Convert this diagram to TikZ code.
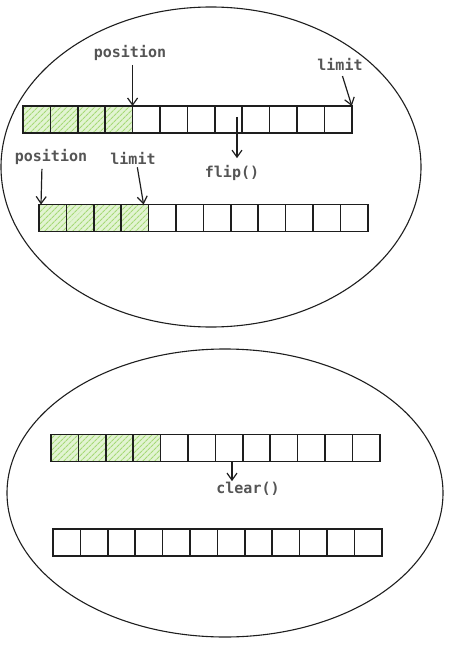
\documentclass[tikz,border=0pt]{standalone}
\usepackage{fontspec}
\newfontfamily\codefont{DejaVu Sans Mono}
\usetikzlibrary{arrows.meta,patterns.meta,calc}
\definecolor{hatch}{HTML}{A6D977}
\definecolor{hfill}{HTML}{E2F4D2}
\definecolor{txt}{HTML}{555555}
\definecolor{ink}{HTML}{1E1E1E}
\tikzset{
 cell/.style={draw=ink, line width=1.6pt, minimum width=27.4pt, minimum height=27pt, inner sep=0pt, outer sep=0pt},
 filled/.style={cell, preaction={fill=hfill}, pattern={Lines[angle=45,distance=4pt,line width=1.1pt]}, pattern color=hatch},
 lbl/.style={font=\codefont\bfseries\fontsize{15}{17}\selectfont, text=txt, inner sep=1pt},
 arr/.style={draw=ink, line width=1.2pt, -{Straight Barb[length=7pt,width=10pt]}},
 blob/.style={draw=ink, line width=1.1pt}
}
\begin{document}
\begin{tikzpicture}[x=1pt,y=-1pt]
\useasboundingbox (0,0) rectangle (467,650);
% enclosing ellipses
\draw[blob] (211,167) ellipse [x radius=210pt, y radius=160pt];
\draw[blob] (225,493) ellipse [x radius=218pt, y radius=144pt];
% row 1
\foreach \i in {1,...,4} \node[filled] (r1c\i) at ({23+13.7+(\i-1)*27.4},119.5) {};
\foreach \i in {5,...,12} \node[cell] (r1c\i) at ({23+13.7+(\i-1)*27.4},119.5) {};
% row 2
\foreach \i in {1,...,4} \node[filled] (r2c\i) at ({39+13.7+(\i-1)*27.4},218) {};
\foreach \i in {5,...,12} \node[cell] (r2c\i) at ({39+13.7+(\i-1)*27.4},218) {};
% row 3
\foreach \i in {1,...,4} \node[filled] (r3c\i) at ({51+13.7+(\i-1)*27.4},448) {};
\foreach \i in {5,...,12} \node[cell] (r3c\i) at ({51+13.7+(\i-1)*27.4},448) {};
% row 4
\foreach \i in {1,...,12} \node[cell] (r4c\i) at ({53+13.7+(\i-1)*27.4},542.5) {};
% labels
\node[lbl] (pos1) at (130,53) {position};
\node[lbl] (lim1) at (340,64) {limit};
\node[lbl] (flip) at (232,173) {flip()};
\node[lbl] (pos2) at (51,157) {position};
\node[lbl] (lim2) at (133,158) {limit};
\node[lbl] (clr) at (248,489) {clear()};
% arrows
\draw[arr, shorten <=3pt] (pos1.south -| r1c4.north east) -- (r1c4.north east);
\draw[arr, shorten <=5pt] ($(lim1.south)+(1,0)$) -- (r1c12.north east);
\coordinate (fs) at (237,117);
\draw[arr, shorten >=6pt] (fs) -- (fs |- flip.north);
\draw[arr, shorten <=3pt] ($(pos2.south -| r2c1.north west)+(3,0)$) -- ($(r2c1.north west)+(2,0)$);
\draw[arr, shorten <=2pt] ($(lim2.south)+(4,0)$) -- ($(r2c4.north east)+(-5,0)$);
\coordinate (cs) at (232,461);
\draw[arr] (cs) -- (cs |- clr.north);
\end{tikzpicture}
\end{document}
